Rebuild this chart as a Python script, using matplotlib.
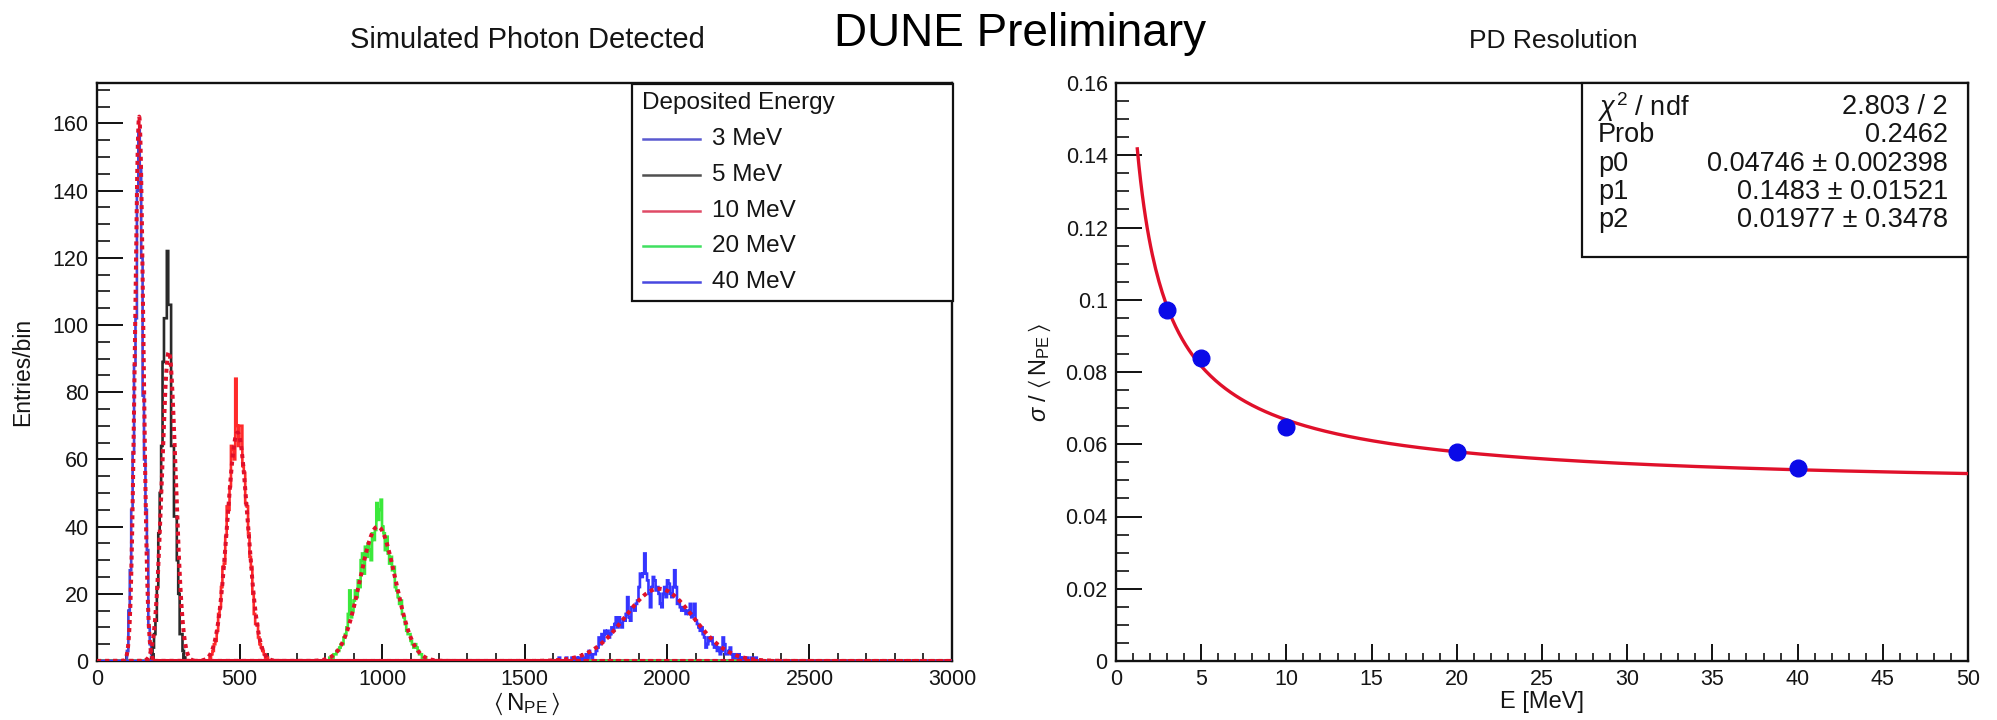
import numpy as np
import matplotlib
matplotlib.use("Agg")
import matplotlib.pyplot as plt
from matplotlib.ticker import MultipleLocator
from matplotlib.patches import Rectangle
from matplotlib.lines import Line2D

plt.rcParams['font.family'] = ['Liberation Sans', 'DejaVu Sans']
plt.rcParams['mathtext.fontset'] = 'custom'
plt.rcParams['mathtext.rm'] = 'Liberation Sans'
plt.rcParams['mathtext.it'] = 'Liberation Sans:italic'
plt.rcParams['mathtext.fallback'] = 'stixsans'

# ---------------- data ----------------
bin_width = 5
x_max = 3000
labels = ['3 MeV', '5 MeV', '10 MeV', '20 MeV', '40 MeV']
hist_start = [100, 185, 390, 810, 1600]

h_3mev = [0, 3, 15, 27, 45, 62, 88, 102, 140, 158, 147, 120, 79, 60, 45, 33, 10, 5, 2, 0]
h_5mev = [0, 1, 4, 8, 12, 22, 38, 50, 64, 89, 102, 102, 122, 106, 106, 64, 64, 43, 43,
          30, 20, 8, 8, 3, 1, 0]
h_10mev = [0, 1, 2, 3, 5, 6, 9, 14, 16, 22, 28, 29, 37, 46, 45, 52, 64, 63, 60, 84, 70,
           64, 70, 70, 58, 56, 47, 46, 38, 31, 28, 20, 14, 11, 11, 7, 5, 4, 3, 2, 1, 1, 0]
h_20mev = [0, 1, 1, 1, 2, 2, 3, 3, 4, 5, 5, 7, 8, 10, 14, 21, 13, 15, 18, 21, 19, 24, 22,
           30, 32, 26, 34, 31, 35, 33, 30, 38, 36, 39, 47, 42, 45, 48, 40, 38, 33, 37, 32,
           29, 31, 27, 28, 22, 21, 19, 17, 18, 14, 13, 11, 9, 8, 8, 6, 5, 4, 5, 4, 3, 2, 2,
           1, 1, 1, 0]
h_40mev = [0, 0, 0, 0, 1, 0, 0, 0, 0, 1, 0, 0, 0, 1, 0, 0, 1, 0, 1, 1, 0, 1, 1, 2, 1, 3,
           2, 1, 2, 2, 3, 4, 7, 5, 8, 6, 9, 8, 9, 7, 8, 10, 9, 11, 13, 10, 13, 11, 10, 12,
           12, 14, 19, 13, 12, 16, 16, 15, 17, 18, 22, 26, 25, 26, 32, 26, 24, 20, 16, 22,
           25, 24, 21, 22, 20, 17, 16, 20, 22, 19, 24, 23, 20, 19, 22, 27, 22, 17, 18, 16,
           15, 16, 15, 14, 15, 14, 17, 13, 14, 17, 12, 11, 10, 9, 10, 8, 7, 4, 5, 7, 6, 7,
           5, 4, 5, 3, 4, 2, 3, 7, 5, 2, 2, 3, 4, 2, 1, 2, 1, 1, 2, 1, 0, 1, 0, 1, 1, 0, 0,
           1, 0, 0, 1, 0, 0, 0, 0, 0, 0, 0]
hists = [h_3mev, h_5mev, h_10mev, h_20mev, h_40mev]

# Gaussian fit parameters (amplitude, mean, sigma) per energy
fit_amp = [162, 92, 68, 40, 21.5]
fit_mean = [148, 252, 493, 985, 1972]
fit_sigma = [14.5, 24, 36, 62, 120]

# resolution plot
energies = [3, 5, 10, 20, 40]
resolution = [0.0972, 0.0838, 0.0648, 0.0579, 0.0535]
p0, p1, p2 = 0.04746, 0.1483, 0.01977
stat_names = [r'$\chi^{2}$ / ndf', 'Prob', 'p0', 'p1', 'p2']
stat_values = ['2.803 / 2', '0.2462', '0.04746 \u00b1 0.002398',
               '0.1483 \u00b1 0.01521', '0.01977 \u00b1 0.3478']

# ---------------- styles ----------------
hist_colors = ['#4545d8', '#2a2a2a', '#ff2a2a', '#3be83b', '#3535ff']
leg_colors = ['#5a5ad0', '#505050', '#e04a66', '#40e060', '#4848e0']
fit_color = '#e0102a'
TXT = '#151515'

W, H = 1997, 720
fig = plt.figure(figsize=(W / 100, H / 100), dpi=100)


def fx(x):
    return x / W


def fy(y):
    return 1 - y / H


def style_axes(ax):
    for s in ['top', 'right', 'left', 'bottom']:
        ax.spines[s].set_linewidth(1.7)
        ax.spines[s].set_color('#111111')
    ax.tick_params(axis='x', which='major', direction='in', length=12, width=1.4,
                   top=False, labelsize=15.5, pad=6, colors='#111111', labelcolor=TXT)
    ax.tick_params(axis='x', which='minor', direction='in', length=6, width=1.2, top=False,
                   colors='#111111')
    ax.tick_params(axis='y', which='major', direction='in', length=19, width=1.4,
                   right=False, labelsize=15.5, pad=6, colors='#111111', labelcolor=TXT)
    ax.tick_params(axis='y', which='minor', direction='in', length=9.5, width=1.2,
                   right=False, colors='#111111')


# ---------------- left panel ----------------
ax1 = fig.add_axes([fx(97), fy(661), fx(952 - 97), (661 - 83) / H])
edges = np.arange(0, x_max + bin_width, bin_width)
nb = len(edges) - 1
for vals, start, col in zip(hists, hist_start, hist_colors):
    full = np.zeros(nb)
    i0 = start // bin_width
    full[i0:i0 + len(vals)] = vals
    ax1.stairs(full, edges, color=col, lw=1.9, zorder=3)

xf = np.linspace(0, x_max, 3001)
for a, m, s in zip(fit_amp, fit_mean, fit_sigma):
    ax1.plot(xf, a * np.exp(-0.5 * ((xf - m) / s) ** 2), color=fit_color, lw=2.9,
             linestyle=(0, (1.0, 1.0)), zorder=4)

ax1.set_xlim(0, x_max)
ax1.set_ylim(0, 172)
ax1.xaxis.set_major_locator(MultipleLocator(500))
ax1.xaxis.set_minor_locator(MultipleLocator(100))
ax1.yaxis.set_major_locator(MultipleLocator(20))
ax1.yaxis.set_minor_locator(MultipleLocator(5))
style_axes(ax1)

fig.text(fx(527), fy(691), r'$\langle\,\mathrm{N}_{\mathrm{PE}}\,\rangle$', ha='center',
         va='top', fontsize=17.5, color=TXT)
fig.text(fx(23), fy(372), 'Entries/bin', rotation=90, ha='center', va='center',
         fontsize=16.5, color=TXT)

# legend box
fig.patches.append(Rectangle((fx(632), fy(301)), fx(953 - 632), (301 - 84) / H,
                             transform=fig.transFigure, facecolor='white',
                             edgecolor='#111111', lw=1.6, zorder=10))
fig.text(fx(642), fy(103), 'Deposited Energy', ha='left', va='center', fontsize=17.5,
         color=TXT, zorder=11)
for k, (lab, col) in enumerate(zip(labels, leg_colors)):
    yy = 139 + k * 35.8
    fig.lines.append(Line2D([fx(643), fx(700)], [fy(yy), fy(yy)], color=col, lw=1.8,
                            transform=fig.transFigure, zorder=11))
    fig.text(fx(712), fy(yy), lab, ha='left', va='center', fontsize=17.5,
             color=TXT, zorder=11)

# ---------------- right panel ----------------
ax2 = fig.add_axes([fx(1116), fy(661), fx(1968 - 1116), (661 - 83) / H])
Ef = np.linspace(1.25, 50, 500)
ax2.plot(Ef, np.sqrt(p0 ** 2 + p1 ** 2 / Ef + p2 ** 2 / Ef ** 2), color=fit_color,
         lw=2.4, zorder=3)
ax2.plot(energies, resolution, 'o', color='#0a0ae8', markersize=12, zorder=4)
ax2.set_xlim(0, 50)
ax2.set_ylim(0, 0.16)
ax2.xaxis.set_major_locator(MultipleLocator(5))
ax2.xaxis.set_minor_locator(MultipleLocator(1))
ax2.yaxis.set_minor_locator(MultipleLocator(0.005))
ax2.set_yticks([0, 0.02, 0.04, 0.06, 0.08, 0.1, 0.12, 0.14, 0.16])
ax2.set_yticklabels(['0', '0.02', '0.04', '0.06', '0.08', '0.1', '0.12', '0.14', '0.16'])
style_axes(ax2)

fig.text(fx(1542), fy(691), 'E [MeV]', ha='center', va='top', fontsize=17,
         color=TXT)
fig.text(fx(1040), fy(372), r'$\sigma$ / $\langle\,\mathrm{N}_{\mathrm{PE}}\,\rangle$',
         rotation=90, ha='center', va='center', fontsize=17, color=TXT)

# stat box
fig.patches.append(Rectangle((fx(1582), fy(257)), fx(1968 - 1582), (257 - 83) / H,
                             transform=fig.transFigure, facecolor='white',
                             edgecolor='#111111', lw=1.6, zorder=10))
for k, (nm, vl) in enumerate(zip(stat_names, stat_values)):
    yy = 107 + k * 28.3
    fig.text(fx(1598), fy(yy), nm, ha='left', va='center', fontsize=19.5,
             color=TXT, zorder=11)
    fig.text(fx(1948), fy(yy), vl, ha='right', va='center', fontsize=19.5,
             color=TXT, zorder=11)

# ---------------- titles ----------------
fig.text(fx(527), fy(48), 'Simulated Photon Detected', ha='center', va='baseline',
         fontsize=21, color=TXT)
fig.text(fx(1553), fy(48), 'PD Resolution', ha='center', va='baseline', fontsize=19,
         color=TXT)
fig.text(fx(1020), fy(46), 'DUNE Preliminary', ha='center', va='baseline', fontsize=33,
         color='#000000')

fig.savefig('out.png', dpi=100, facecolor='white')
